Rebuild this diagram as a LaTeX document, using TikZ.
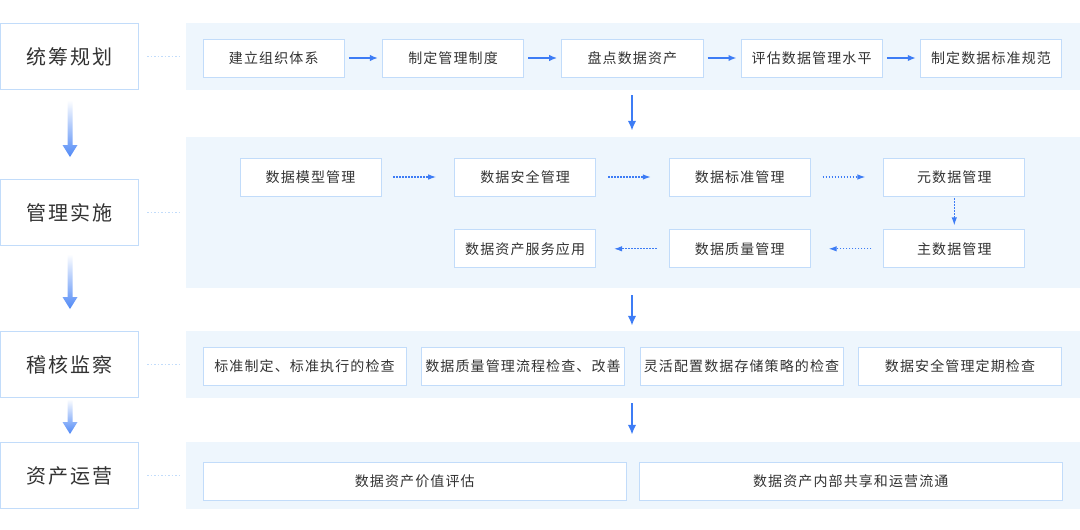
\documentclass[tikz,border=0pt]{standalone}
\usepackage{fontspec}
\setmainfont{Noto Sans CJK SC}
\newfontfamily\stagefont[LetterSpace=10]{Noto Sans CJK SC}
\newfontfamily\itemfont[LetterSpace=8]{Noto Sans CJK SC}
\usetikzlibrary{arrows.meta, positioning}
\definecolor{panelblue}{HTML}{EEF6FD}
\definecolor{edgeblue}{HTML}{C2DCFA}
\definecolor{arrowblue}{HTML}{3D7CF5}
\definecolor{textgray}{HTML}{333333}
\tikzset{stage/.style={draw=edgeblue, line width=1pt, fill=white, minimum width=138pt, minimum height=66pt, inner sep=0pt, text=textgray, font=\stagefont\fontsize{20pt}{24pt}\selectfont},
  panel/.style={fill=panelblue, inner sep=0pt, minimum width=894pt},
  task/.style={draw=edgeblue, line width=0.8pt, fill=white, minimum height=38pt, inner sep=0pt, text=textgray, font=\itemfont\fontsize{14pt}{16pt}\selectfont},
  solidflow/.style={arrowblue, line width=1.6pt, -{Latex[length=8pt,width=6.5pt]}},
  downflow/.style={arrowblue, line width=2pt, -{Latex[length=10pt,width=8.5pt]}},
  dotflow/.style={arrowblue, line width=1.2pt, dash pattern=on 1.5pt off 1.5pt, -{Latex[length=8pt,width=5.5pt]}},
  stagelink/.style={edgeblue, line width=1.3pt, dash pattern=on 1.5pt off 2pt}}
\newcommand{\fadearrow}[2]{\shade[top color=white, bottom color=arrowblue!90] (67.5,#1) -- (72.5,#1) -- (72.5,{#2-12}) -- (77.5,{#2-12}) -- (70,#2) -- (62.5,{#2-12}) -- (67.5,{#2-12}) -- cycle;}

\begin{document}
\begin{tikzpicture}[x=1pt, y=-1pt]
  \useasboundingbox (0,0) rectangle (1080,530);
  % stages on the left
  \node[stage] (plan) at (69.5,56.5) {统筹规划};
  \node[stage] (run) at (69.5,212.5) {管理实施};
  \node[stage] (audit) at (69.5,364.5) {稽核监察};
  \node[stage] (operate) at (69.5,475.5) {资产运营};
  \fadearrow{100}{157}
  \fadearrow{254}{309}
  \fadearrow{399}{434}
  % panels
  \node[panel, minimum height=67pt] (planpanel) at (633,56.5) {};
  \node[panel, minimum height=151pt] (runpanel) at (633,212.5) {};
  \node[panel, minimum height=67pt] (auditpanel) at (633,364.5) {};
  \node[panel, minimum height=67pt] (operatepanel) at (633,475.5) {};
  \foreach \s in {plan, run, audit, operate}
    \draw[stagelink] ([xshift=8pt]\s.east) -- ([xshift=-6pt]\s panel.west);
  \draw[downflow, shorten <=5pt, shorten >=6pt] ([xshift=-1pt]planpanel.south) -- ([xshift=-1pt]runpanel.north);
  \draw[downflow, shorten <=7pt, shorten >=5pt] ([xshift=-1pt]runpanel.south) -- ([xshift=-1pt]auditpanel.north);
  \draw[downflow, shorten <=5pt, shorten >=7pt] ([xshift=-1pt]auditpanel.south) -- ([xshift=-1pt]operatepanel.north);
  % planning row
  \begin{scope}[every node/.style={task, minimum width=141.5pt}, node distance=37pt]
    \node (org) at (273.75,58) {建立组织体系};
    \node[right=of org] (rules) {制定管理制度};
    \node[right=of rules] (inventory) {盘点数据资产};
    \node[right=of inventory] (assess) {评估数据管理水平};
    \node[right=of assess] (standard) {制定数据标准规范};
  \end{scope}
  \foreach \a/\b in {org/rules, rules/inventory, inventory/assess, assess/standard}
    \draw[solidflow, shorten <=4pt, shorten >=4pt] (\a) -- (\b);
  % implementation rows
  \begin{scope}[every node/.style={task, minimum width=141pt}, node distance=72.8pt]
    \node (model) at (310.5,177) {数据模型管理};
    \node[right=of model] (security) {数据安全管理};
    \node[right=of security] (stdmgmt) {数据标准管理};
    \node[right=of stdmgmt] (meta) {元数据管理};
    \node[below=33pt of meta] (master) {主数据管理};
    \node[left=of master] (quality) {数据质量管理};
    \node[left=of quality] (service) {数据资产服务应用};
  \end{scope}
  \foreach \a/\b in {model/security, security/stdmgmt, stdmgmt/meta, master/quality, quality/service}
    \draw[dotflow, shorten <=12pt, shorten >=18pt] (\a) -- (\b);
  \draw[dotflow, shorten <=2pt, shorten >=4pt] (meta) -- (master);
  % audit row
  \begin{scope}[every node/.style={task, minimum width=203pt}, node distance=14.7pt]
    \node (check1) at (304.5,366) {标准制定、标准执行的检查};
    \node[right=of check1] (check2) {数据质量管理流程检查、改善};
    \node[right=of check2] (check3) {灵活配置数据存储策略的检查};
    \node[right=of check3] (check4) {数据安全管理定期检查};
  \end{scope}
  % operation row
  \begin{scope}[every node/.style={task, minimum width=423.5pt}, node distance=11.7pt]
    \node (value) at (414.75,481) {数据资产价值评估};
    \node[right=of value] (share) {数据资产内部共享和运营流通};
  \end{scope}
\end{tikzpicture}
\end{document}
